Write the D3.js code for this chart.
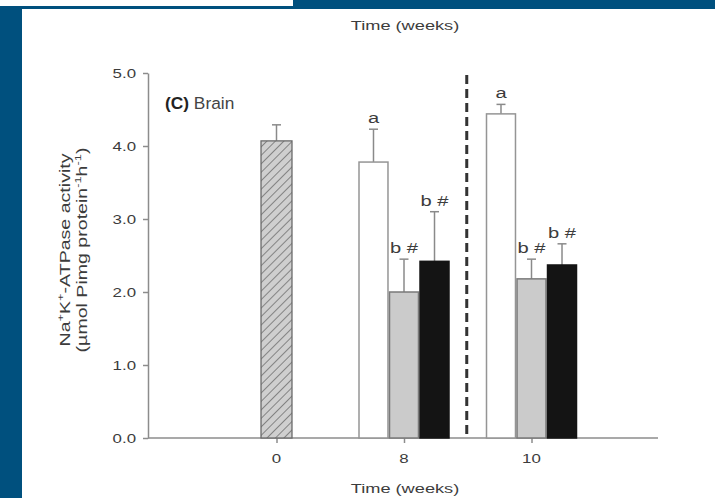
<!DOCTYPE html>
<html>
<head>
<meta charset="utf-8">
<script src="https://cdn.jsdelivr.net/npm/d3@7"></script>
<style>
  html, body { margin: 0; padding: 0; background: #fff; }
  svg { display: block; }
  text { font-family: "Liberation Sans", Arial, Helvetica, sans-serif; fill: #3c3c3c; }
</style>
</head>
<body>
<svg id="chart" width="715" height="498"></svg>
<script>
// ---- data ----
const weeks = ["0", "8", "10"];
const groups = ["open", "grey", "black"];

// week-0 baseline measurement (hatched bar)
const baselineMean = 4.07;
const baselineErr = 0.22;

// mean activity per group at weeks 8 and 10
const openMeans  = [3.78, 4.44];
const greyMeans  = [2.00, 2.18];
const blackMeans = [2.42, 2.37];

// upper error (SEM) per group at weeks 8 and 10
const openErr  = [0.45, 0.13];
const greyErr  = [0.45, 0.27];
const blackErr = [0.68, 0.29];

// significance letters
const openLabels  = ["a", "a"];
const greyLabels  = ["b #", "b #"];
const blackLabels = ["b #", "b #"];

const treatedWeeks = ["8", "10"];
const yTicks = [0, 1, 2, 3, 4, 5];

// ---- layout ----
const SX = 1.35;               // the figure's type is set wide: stretch along the text direction
const svg = d3.select("#chart");

// page frame
svg.append("rect").attr("x", 0).attr("y", 0).attr("width", 715).attr("height", 9).attr("fill", "#00507e");
svg.append("rect").attr("x", 0).attr("y", 0).attr("width", 293).attr("height", 6).attr("fill", "#fff");
svg.append("rect").attr("x", 0).attr("y", 6).attr("width", 22).attr("height", 492).attr("fill", "#00507e");

const y = d3.scaleLinear().domain([0, 5]).range([438, 73]);
const x = d3.scalePoint().domain(weeks).range([149, 659]).padding(1);
const inner = d3.scaleBand().domain(groups).range([-45, 45]).paddingInner(0.05);

function stext(parent, px, py, str, size, anchor, weight, sx) {
  return parent.append("text")
    .attr("transform", `translate(${px},${py}) scale(${sx || SX},1)`)
    .attr("text-anchor", anchor || "middle")
    .attr("font-size", size)
    .attr("font-weight", weight || "normal")
    .text(str);
}

// hatch pattern for the baseline bar
const defs = svg.append("defs");
const pat = defs.append("pattern")
  .attr("id", "hatch")
  .attr("patternUnits", "userSpaceOnUse")
  .attr("width", 6).attr("height", 6)
  .attr("patternTransform", "rotate(45)");
pat.append("rect").attr("width", 6).attr("height", 6).attr("fill", "#cfcfcf");
pat.append("line").attr("x1", 0).attr("y1", 0).attr("x2", 0).attr("y2", 6)
  .attr("stroke", "#6f6f6f").attr("stroke-width", 1.6);

// ---- axes ----
const yAxis = svg.append("g")
  .attr("transform", "translate(148,0)")
  .call(d3.axisLeft(y).tickValues(yTicks).tickFormat(d3.format(".1f")).tickSize(5).tickSizeOuter(0));
yAxis.selectAll("path, line").attr("stroke", "#8c8c8c").attr("stroke-width", 1.5);
yAxis.selectAll("text")
  .attr("font-size", 12.5)
  .attr("fill", "#444")
  .attr("x", -12 / SX)
  .attr("transform", `scale(${SX},1)`);

const xAxis = svg.append("g")
  .attr("transform", "translate(0,438)")
  .call(d3.axisBottom(x).tickSize(5).tickSizeOuter(0));
xAxis.select(".domain").attr("d", "M148,0H658");
xAxis.selectAll("path, line").attr("stroke", "#8c8c8c").attr("stroke-width", 1.5);
xAxis.selectAll(".tick text").remove();
weeks.forEach(w => stext(svg, x(w), 463, w, 12.5).attr("fill", "#444"));

// axis titles
stext(svg, 405, 493, "Time (weeks)", 13.5).attr("fill", "#444");
stext(svg, 405, 30, "Time (weeks)", 13.5).attr("fill", "#444");

function yLabelLine(px, parts) {
  const t = svg.append("text")
    .attr("transform", `translate(${px},250) rotate(-90) scale(${SX},1)`)
    .attr("text-anchor", "middle")
    .attr("font-size", 14.5)
    .attr("fill", "#444");
  parts.forEach(p => {
    const ts = t.append("tspan").text(p.s);
    if (p.sup) ts.attr("font-size", 9.5).attr("dy", -6);
    if (p.down) ts.attr("dy", 6);
  });
}
yLabelLine(70, [
  { s: "Na" }, { s: "+", sup: true }, { s: "K", down: true }, { s: "+", sup: true },
  { s: "-ATPase activity", down: true }
]);
yLabelLine(87, [
  { s: "(µmol Pimg protein" }, { s: "-1", sup: true }, { s: "h", down: true },
  { s: "-1", sup: true }, { s: ")", down: true }
]);

// panel label
const pl = svg.append("text")
  .attr("transform", `translate(165,109) scale(1.05,1)`)
  .attr("font-size", 16.5);
pl.append("tspan").attr("font-weight", "bold").attr("fill", "#222").text("(C)");
pl.append("tspan").attr("fill", "#444").text(" Brain");

// ---- marks ----
function errorBar(cx, mean, err) {
  const top = y(mean + err);
  svg.append("line").attr("x1", cx).attr("x2", cx).attr("y1", y(mean)).attr("y2", top)
    .attr("stroke", "#8a8a8a").attr("stroke-width", 1.5);
  svg.append("line").attr("x1", cx - 4.5).attr("x2", cx + 4.5).attr("y1", top).attr("y2", top)
    .attr("stroke", "#8a8a8a").attr("stroke-width", 1.5);
}

// baseline bar
const bw = inner.bandwidth();
{
  const cx = x("0");
  errorBar(cx, baselineMean, baselineErr);
  svg.append("rect")
    .attr("x", cx - bw / 2 - 1).attr("width", bw + 2)
    .attr("y", y(baselineMean)).attr("height", y(0) - y(baselineMean))
    .attr("fill", "url(#hatch)").attr("stroke", "#6a6a6a").attr("stroke-width", 1.3);
}

const styles = {
  open:  { fill: "#ffffff", stroke: "#959595" },
  grey:  { fill: "#cbcbcb", stroke: "#7a7a7a" },
  black: { fill: "#141414", stroke: "#141414" }
};
const series = {
  open:  { means: openMeans,  errs: openErr,  labels: openLabels },
  grey:  { means: greyMeans,  errs: greyErr,  labels: greyLabels },
  black: { means: blackMeans, errs: blackErr, labels: blackLabels }
};

treatedWeeks.forEach((w, i) => {
  groups.forEach(g => {
    const s = series[g];
    const x0 = x(w) + inner(g);
    const cx = x0 + bw / 2;
    const m = s.means[i], e = s.errs[i];
    errorBar(cx, m, e);
    svg.append("rect")
      .attr("x", x0).attr("width", bw)
      .attr("y", y(m)).attr("height", y(0) - y(m))
      .attr("fill", styles[g].fill).attr("stroke", styles[g].stroke).attr("stroke-width", 1.5);
    stext(svg, cx, y(m + e) - 6, s.labels[i], 15.5, "middle", "normal", 1.3).attr("fill", "#4a4a4a");
  });
});

// separator between week 8 and week 10
const midX = (x("8") + x("10")) / 2 - 1;
svg.append("line")
  .attr("x1", midX).attr("x2", midX).attr("y1", y(5) + 2).attr("y2", y(0))
  .attr("stroke", "#333").attr("stroke-width", 3)
  .attr("stroke-dasharray", "9,5");
</script>
</body>
</html>
